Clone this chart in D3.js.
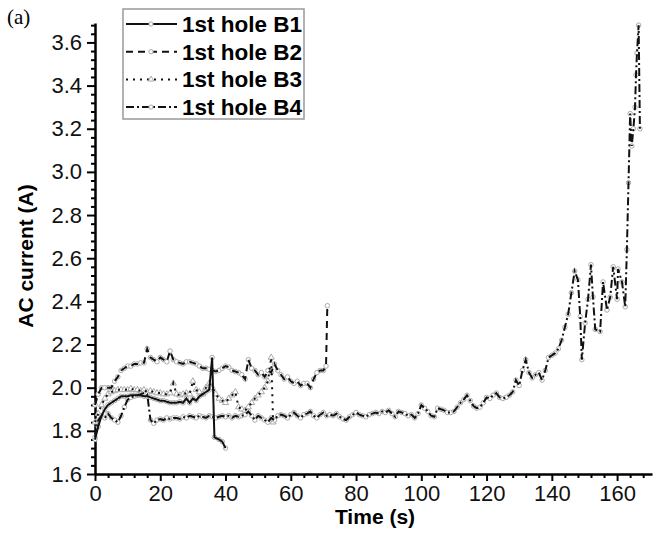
<!DOCTYPE html>
<html>
<head>
<meta charset="utf-8">
<script src="https://cdn.jsdelivr.net/npm/d3@7"></script>
<style>
  body { margin: 0; background: #fff; }
  text { font-family: "Liberation Sans", Arial, sans-serif; }
</style>
</head>
<body>
<div id="chart"></div>
<script>
// series data
var seriesNames = ["1st hole B1", "1st hole B2", "1st hole B3", "1st hole B4"];

var b1Time = [0,1,2,3,4,5,6,7,8,9,10,11,12,13,14,15,16,17,18,19,20,21,22,23,24,25,26,27,28,29,30,31,32,33,34,35,35.9,36.6,38,39,40];
var b1Current = [1.76,1.82,1.87,1.90,1.92,1.93,1.94,1.95,1.96,1.96,1.96,1.965,1.965,1.965,1.965,1.96,1.96,1.955,1.95,1.945,1.94,1.94,1.935,1.93,1.93,1.93,1.935,1.93,1.95,1.93,1.95,1.94,1.96,1.97,1.98,1.99,2.14,1.77,1.76,1.75,1.72];

var b2Time = [0,1,2,3,4,5,6,7,8,9,10,11,12,13,14,15,16,17,18,19,20,21,22,23,24,25,26,27,28,29,30,31,32,33,34,35,36,37,38,39,40,41,42,43,44,45,46,47,48,49,50,51,52,53,54,55,56,57,58,59,60,61,62,63,64,65,66,67,68,69,70,70.8,71.2];
var b2Current = [1.92,1.97,2.0,2.0,2.0,2.0,2.03,2.05,2.08,2.09,2.1,2.1,2.11,2.11,2.115,2.115,2.18,2.14,2.13,2.12,2.14,2.13,2.12,2.17,2.13,2.12,2.115,2.11,2.12,2.12,2.115,2.11,2.1,2.09,2.09,2.085,2.08,2.075,2.08,2.09,2.1,2.095,2.08,2.075,2.07,2.06,2.04,2.13,2.09,2.08,2.06,2.07,2.05,2.08,2.07,2.11,2.08,2.06,2.04,2.05,2.03,2.02,2.03,2.01,2.02,2.02,2.0,2.04,2.07,2.08,2.08,2.10,2.38];

var b3Time = [0,1,2,3,4,5,6,7,8,9,10,11,12,13,14,15,16,17,18,19,20,21,22,23,24,25,26,27,28,29,30,31,32,33,34,35,36,37,38,39,40,41,42,43,44,45,46,47,48,49,50,51,52,53,54,54.6];
var b3Current = [1.84,1.88,1.92,1.95,1.97,1.98,1.985,1.99,1.99,1.99,1.99,1.995,1.99,1.99,1.985,1.99,1.98,1.985,1.98,1.975,1.975,1.97,1.97,1.975,2.02,1.97,1.965,1.97,1.975,1.97,2.03,1.99,1.98,1.97,2.0,2.02,2.0,1.97,1.95,1.94,1.93,1.95,1.965,1.98,1.91,1.90,1.895,1.91,1.93,1.95,1.965,1.98,2.0,2.03,2.14,1.84];

var b4Time = [0,1,2,3,4,5,6,7,8,9,10,11,12,13,14,15,16,17,18,19,20,21,22,23,24,25,26,27,28,29,30,31,32,33,34,35,36,37,38,39,40,41,42,43,44,45,46,47,48,49,50,51,52,53,54,55,56,57,58,59,60,61,62,63,64,65,66,67,68,69,70,71,72,73,74,75,76,77,78,79,80,81,82,83,84,85,86,87,88,89,90,91,92,93,94,95,96,97,98,99,100,101,102,103,104,105,106,107,108,109,110,111,112,113,114,115,116,117,118,119,120,121,122,123,124,125,126,127,128,129,130,131,132,133,134,135,136,137,138,139,140,141,142,143,144,145,146,147,148,148.7,149.2,150.2,151.1,152,152.6,153.3,154.8,155.7,156.9,157.9,158.8,160,160.3,161.5,162.5,163,163.5,164,164.5,165,165.5,165.8,166.1,166.6,167];
var b4Current = [1.77,1.85,1.87,1.86,1.88,1.86,1.85,1.84,1.87,1.91,1.945,1.955,1.96,1.965,1.97,1.975,1.97,1.85,1.835,1.85,1.855,1.85,1.86,1.855,1.86,1.86,1.855,1.865,1.86,1.87,1.865,1.86,1.87,1.865,1.86,1.87,1.865,1.86,1.865,1.87,1.865,1.87,1.86,1.87,1.865,1.87,1.875,1.89,1.87,1.85,1.87,1.86,1.85,1.84,1.86,1.85,1.87,1.875,1.87,1.86,1.875,1.885,1.87,1.86,1.875,1.88,1.89,1.87,1.86,1.875,1.885,1.87,1.875,1.87,1.88,1.865,1.855,1.85,1.865,1.875,1.885,1.875,1.87,1.865,1.875,1.88,1.885,1.88,1.89,1.885,1.895,1.88,1.865,1.89,1.885,1.88,1.87,1.875,1.86,1.88,1.92,1.905,1.89,1.87,1.865,1.905,1.9,1.895,1.885,1.885,1.89,1.91,1.93,1.945,1.965,1.94,1.915,1.905,1.91,1.93,1.955,1.95,1.965,1.975,1.955,1.95,1.955,1.965,1.98,2.035,2.01,2.08,2.13,2.07,2.045,2.06,2.07,2.035,2.08,2.14,2.15,2.16,2.18,2.22,2.28,2.34,2.44,2.54,2.5,2.33,2.13,2.3,2.41,2.57,2.42,2.27,2.26,2.49,2.36,2.42,2.56,2.41,2.55,2.49,2.375,2.64,2.95,3.27,3.12,3.2,3.3,3.45,3.55,3.68,3.2,1.83];

var xTicks = [0,20,40,60,80,100,120,140,160];
var yTicks = [1.6,1.8,2.0,2.2,2.4,2.6,2.8,3.0,3.2,3.4,3.6];

var dashes = ["none", "7,5", "2,5", "8,3,2,3"];
var markerShapes = [d3.symbolCircle, d3.symbolCircle, d3.symbolTriangle, d3.symbolCircle];

var series = [
  {name: seriesNames[0], t: b1Time, v: b1Current},
  {name: seriesNames[1], t: b2Time, v: b2Current},
  {name: seriesNames[2], t: b3Time, v: b3Current},
  {name: seriesNames[3], t: b4Time, v: b4Current}
];

var width = 657, height = 556;

var svg = d3.select("#chart").append("svg")
    .attr("width", width)
    .attr("height", height);

var x = d3.scaleLinear().domain([0, 170.7]).range([95, 652]);
var y = d3.scaleLinear().domain([1.6, 3.69]).range([474, 23]);

// minor ticks first
var xMinor = d3.range(0, 170, 4).filter(function(d) { return d % 20 != 0; });
var yMinor = d3.range(0, 53).map(function(i) { return +(1.6 + i * 0.04).toFixed(2); })
    .filter(function(d) { return Math.round(d * 100) % 20 != 0; });

svg.append("g")
    .attr("transform", "translate(0,474)")
    .call(d3.axisBottom(x).tickValues(xMinor).tickSize(4).tickFormat(""))
    .call(function(g) { g.select(".domain").remove(); g.selectAll("line").attr("stroke-width", 2); });

svg.append("g")
    .attr("transform", "translate(95,0)")
    .call(d3.axisLeft(y).tickValues(yMinor).tickSize(4).tickFormat(""))
    .call(function(g) { g.select(".domain").remove(); g.selectAll("line").attr("stroke-width", 2); });

// main axes
var xAxis = svg.append("g")
    .attr("transform", "translate(0,474)")
    .call(d3.axisBottom(x).tickValues(xTicks).tickSize(7).tickSizeOuter(0).tickPadding(4));
xAxis.select(".domain").attr("stroke-width", 2.5);
xAxis.selectAll("line").attr("stroke-width", 2);
xAxis.selectAll("text").attr("font-size", 22).attr("font-family", "Liberation Sans, Arial, sans-serif").attr("fill", "#111");

var yAxis = svg.append("g")
    .attr("transform", "translate(95,0)")
    .call(d3.axisLeft(y).tickValues(yTicks).tickSize(8).tickSizeOuter(0).tickPadding(5).tickFormat(d3.format(".1f")));
yAxis.select(".domain").attr("stroke-width", 2.5);
yAxis.selectAll("line").attr("stroke-width", 2);
yAxis.selectAll("text").attr("font-size", 22).attr("font-family", "Liberation Sans, Arial, sans-serif").attr("fill", "#111");

// axis titles
svg.append("text")
    .attr("x", 375).attr("y", 524)
    .attr("text-anchor", "middle")
    .attr("font-size", 21).attr("font-weight", "bold")
    .text("Time (s)");

svg.append("text")
    .attr("transform", "translate(33,256) rotate(-90)")
    .attr("text-anchor", "middle")
    .attr("font-size", 21).attr("font-weight", "bold")
    .text("AC current (A)");

svg.append("text")
    .attr("x", 7).attr("y", 24)
    .style("font-family", "Liberation Serif, Times New Roman, serif")
    .attr("font-size", 21)
    .text("(a)");

// markers, then lines
var line = d3.line()
    .x(function(d) { return x(d[0]); })
    .y(function(d) { return y(d[1]); });

series.forEach(function(s, i) {
  var pts = s.t.map(function(t, j) { return [t, s.v[j]]; });
  svg.append("g").selectAll("path")
    .data(pts)
    .enter().append("path")
    .attr("d", d3.symbol().type(markerShapes[i]).size(16))
    .attr("transform", function(d) { return "translate(" + x(d[0]) + "," + y(d[1]) + ")"; })
    .attr("fill", "#fff")
    .attr("stroke", "#aaa")
    .attr("stroke-width", 1);
});

series.forEach(function(s, i) {
  var pts = s.t.map(function(t, j) { return [t, s.v[j]]; });
  svg.append("path")
    .datum(pts)
    .attr("d", line)
    .attr("fill", "none")
    .attr("stroke", "#111")
    .attr("stroke-width", 2)
    .attr("stroke-dasharray", dashes[i] == "none" ? null : dashes[i]);
});

// legend
var legend = svg.append("g");
legend.append("rect")
    .attr("x", 123).attr("y", 9)
    .attr("width", 181).attr("height", 110)
    .attr("fill", "#fff")
    .attr("stroke", "#999")
    .attr("stroke-width", 1.5);

var rows = legend.selectAll("g.row")
    .data(series)
    .enter().append("g")
    .attr("class", "row")
    .attr("transform", function(d, i) { return "translate(0," + (24 + i * 27.7) + ")"; });

rows.append("line")
    .attr("x1", 126).attr("x2", 177)
    .attr("stroke", "#111").attr("stroke-width", 2)
    .attr("stroke-dasharray", function(d, i) { return dashes[i] == "none" ? null : dashes[i]; });

rows.append("path")
    .attr("d", function(d, i) { return d3.symbol().type(markerShapes[i]).size(14)(); })
    .attr("transform", "translate(151,0)")
    .attr("fill", "#fff").attr("stroke", "#aaa");

rows.append("text")
    .attr("x", 182).attr("y", 8)
    .attr("font-size", 22).attr("font-weight", "bold")
    .attr("textLength", 120).attr("lengthAdjust", "spacingAndGlyphs")
    .text(function(d) { return d.name; });
</script>
</body>
</html>
